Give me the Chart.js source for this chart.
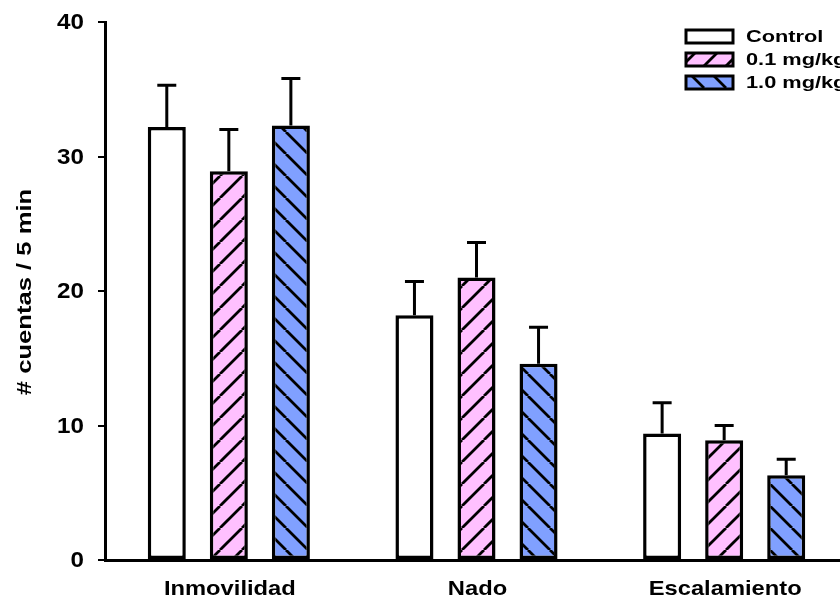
<!DOCTYPE html>
<html>
<head>
<meta charset="utf-8">
<script src="https://cdn.jsdelivr.net/npm/chart.js@4/dist/chart.umd.min.js"></script>
<style>
  html, body { margin: 0; padding: 0; overflow: hidden; background: #fff; }
  #wrap { width: 860px; height: 600px; position: relative; }
</style>
</head>
<body>
<div id="wrap"><canvas id="c" width="860" height="600"></canvas></div>
<script>
// Behavioural counts per 5 min in the forced swim test
const categories = ['Inmovilidad', 'Nado', 'Escalamiento'];
const seriesNames = ['Control', '0.1 mg/kg', '1.0 mg/kg'];
const controlMeans = [32.2, 18.2, 9.4];
const lowDoseMeans = [28.9, 21.0, 8.9];
const highDoseMeans = [32.3, 14.6, 6.3];
const controlSem = [3.1, 2.5, 2.3];
const lowDoseSem = [3.1, 2.6, 1.1];
const highDoseSem = [3.5, 2.7, 1.2];
const yTicks = [0, 10, 20, 30, 40];
const yTitle = '# cuentas / 5 min';

const FONT = '"Liberation Sans", Arial, sans-serif';

// hatch fill: tile with diagonal black stripes over a colour
function hatch(bg, dir) {
  const s = 22;
  const t = document.createElement('canvas');
  t.width = s; t.height = s;
  const g = t.getContext('2d');
  g.fillStyle = bg;
  g.fillRect(0, 0, s, s);
  g.strokeStyle = '#000';
  g.lineWidth = 2.8;
  g.beginPath();
  for (let k = -1; k <= 1; k++) {
    if (dir === '/') { g.moveTo(k * s, s); g.lineTo(k * s + s, 0); }
    else { g.moveTo(k * s, 0); g.lineTo(k * s + s, s); }
  }
  g.stroke();
  return g.createPattern(t, 'repeat');
}

const ctx0 = document.getElementById('c').getContext('2d');
const fills = ['#ffffff', hatch('#ffc0ff', '/'), hatch('#80a0ff', '\\')];
const means = [controlMeans, lowDoseMeans, highDoseMeans];
const sems = [controlSem, lowDoseSem, highDoseSem];

// bold text, widened horizontally along its own baseline
function wideText(ctx, text, x, y, align, size, stretch, rotate) {
  ctx.save();
  ctx.translate(x, y);
  if (rotate) ctx.rotate(-Math.PI / 2);
  ctx.scale(stretch, 1);
  ctx.font = 'bold ' + size + 'px ' + FONT;
  ctx.fillStyle = '#000';
  ctx.textAlign = align;
  ctx.textBaseline = 'middle';
  ctx.fillText(text, 0, 0);
  ctx.restore();
}

// upward-only error bars with caps
const errorBars = {
  id: 'errorBars',
  afterDatasetsDraw(chart) {
    const ctx = chart.ctx;
    const ys = chart.scales.y;
    ctx.save();
    ctx.strokeStyle = '#000';
    ctx.lineWidth = 3;
    chart.data.datasets.forEach((ds, di) => {
      const meta = chart.getDatasetMeta(di);
      meta.data.forEach((bar, i) => {
        const top = ys.getPixelForValue(ds.data[i] + sems[di][i]);
        ctx.beginPath();
        ctx.moveTo(bar.x, bar.y);
        ctx.lineTo(bar.x, top);
        ctx.moveTo(bar.x - 9.5, top);
        ctx.lineTo(bar.x + 9.5, top);
        ctx.stroke();
      });
    });
    ctx.restore();
  }
};

// axis labels, title and legend
const annotations = {
  id: 'annotations',
  afterDraw(chart) {
    const ctx = chart.ctx;
    const ys = chart.scales.y;
    const xs = chart.scales.x;
    yTicks.forEach(v => wideText(ctx, String(v), 84, ys.getPixelForValue(v) + 1, 'right', 22, 1.1));
    categories.forEach((c, i) => wideText(ctx, c, xs.getPixelForValue(i) + 1, 589, 'center', 21, 1.13));
    wideText(ctx, yTitle, 25, 292, 'center', 21, 1.22, true);

    const rows = [37, 60, 83];
    chart.data.datasets.forEach((ds, di) => {
      const y = rows[di];
      ctx.save();
      ctx.fillStyle = ds.backgroundColor;
      ctx.fillRect(686, y - 7, 47, 13);
      ctx.strokeStyle = '#000';
      ctx.lineWidth = 3;
      ctx.strokeRect(686, y - 7, 47, 13);
      ctx.restore();
      wideText(ctx, ds.label, 746, y, 'left', 17, 1.28);
    });
  }
};

new Chart(ctx0, {
  type: 'bar',
  data: {
    labels: categories,
    datasets: seriesNames.map((name, di) => ({
      label: name,
      data: means[di],
      backgroundColor: fills[di],
      borderColor: '#000',
      borderWidth: 3.5,
      borderSkipped: false,
      barPercentage: 0.613,
      categoryPercentage: 0.7515
    }))
  },
  options: {
    responsive: false,
    animation: false,
    layout: { padding: { top: 22, right: 12, bottom: 0, left: 0 } },
    plugins: { legend: { display: false }, tooltip: { enabled: false } },
    scales: {
      x: {
        afterFit(s) { s.height = 40; },
        ticks: { display: false },
        grid: { display: false },
        border: { display: true, color: '#000', width: 3 }
      },
      y: {
        min: 0,
        max: 40,
        afterFit(s) { s.width = 105; },
        ticks: { display: false, stepSize: 10 },
        grid: { drawOnChartArea: false, drawTicks: true, tickLength: 7, color: '#000', lineWidth: 2 },
        border: { display: true, color: '#000', width: 3 }
      }
    }
  },
  plugins: [errorBars, annotations]
});
</script>
</body>
</html>
